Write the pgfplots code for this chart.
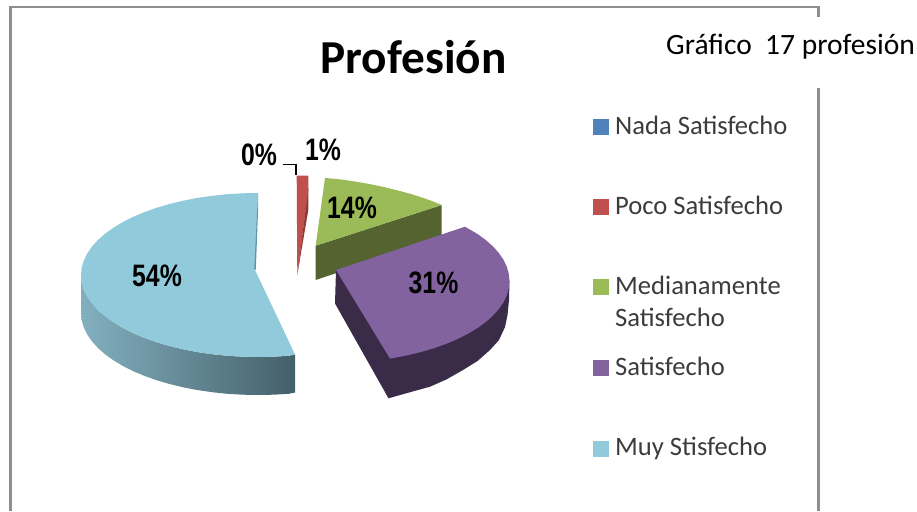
\documentclass[border=0pt]{standalone}
\usepackage{fontspec}
\setmainfont{Carlito}
\newfontfamily\lab{Liberation Sans}[FakeStretch=0.8]
\usepackage{pgfplots}
\pgfplotsset{compat=1.18}
\definecolor{cyTop}{HTML}{90CADB}
\definecolor{cyL}{HTML}{83B0BF}
\definecolor{cyR}{HTML}{44606A}
\definecolor{cySl}{HTML}{5F95A8}
\definecolor{rdTop}{HTML}{C0504D}
\definecolor{rdSd}{HTML}{8F3A37}
\definecolor{grTop}{HTML}{9BBB59}
\definecolor{grSd}{HTML}{556330}
\definecolor{puTop}{HTML}{8263A0}
\definecolor{puSd}{HTML}{3A2B48}
\definecolor{blL}{HTML}{4F81BD}
\definecolor{frm}{HTML}{8E8E8E}
\definecolor{lg}{HTML}{3C3C3C}
\newcommand{\pct}[1]{{\fontsize{31}{31}\selectfont\lab\bfseries #1}}
\newcommand{\lgd}[1]{{\fontsize{26.6}{26.6}\selectfont\color{lg}#1}}
\begin{document}
\begin{tikzpicture}
\path[use as bounding box] (0,0) rectangle (917pt,511pt);
\begin{axis}[
  at={(0,0)}, anchor=south west,
  scale only axis, width=917pt, height=511pt,
  xmin=0, xmax=917, ymin=0, ymax=511, y dir=reverse,
  hide axis, clip=true]
% frame
\addplot[frm, line width=2.4pt] coordinates {(10.5,511) (10.5,7) (818.5,7) (818.5,17)};
\addplot[frm, line width=2.4pt] coordinates {(818.5,88) (818.5,511)};
% Muy Stisfecho 54%
\addplot[draw=none, left color=cyL, right color=cyR] coordinates {
 (81,275) (81.7,282.1) (83.7,289.2) (87,296.2) (91.7,303) (97.6,309.7) (104.7,316) (113,322) (122.4,327.7)
 (132.8,333) (144.2,337.8) (156.5,342.2) (169.5,346) (183.2,349.3) (197.5,352.1) (212.2,354.2)
 (227.3,355.8) (242.6,356.7) (258,357) (273.4,356.7) (288.7,355.8) (295,354.5) (295,392.5) (288.7,393.8)
 (273.4,394.7) (258,395) (242.6,394.7) (227.3,393.8) (212.2,392.2) (197.5,390.1) (183.2,387.3) (169.5,384)
 (156.5,380.2) (144.2,375.8) (132.8,371) (122.4,365.7) (113,360) (104.7,354) (97.6,347.7) (91.7,341)
 (87,334.2) (83.7,327.2) (81.7,320.1) (81,313)} -- cycle;
\addplot[fill=cyTop, draw=none] coordinates {
 (258,193) (242.6,193.3) (227.3,194.2) (212.2,195.8) (197.5,197.9) (183.2,200.7) (169.5,204) (156.5,207.8)
 (144.2,212.2) (132.8,217) (122.4,222.3) (113,228) (104.7,234) (97.6,240.3) (91.7,247) (87,253.8)
 (83.7,260.8) (81.7,267.9) (81,275) (81.7,282.1) (83.7,289.2) (87,296.2) (91.7,303) (97.6,309.7) (104.7,316)
 (113,322) (122.4,327.7) (132.8,333) (144.2,337.8) (156.5,342.2) (169.5,346) (183.2,349.3) (197.5,352.1)
 (212.2,354.2) (227.3,355.8) (242.6,356.7) (258,357) (273.4,356.7) (288.7,355.8) (295,354.5) (255,270)} -- cycle;
\addplot[fill=cySl, draw=none] coordinates {(258,193) (258,212) (255.8,270) (254.3,268)} -- cycle;
% Poco Satisfecho 1%
\addplot[fill=rdTop, draw=none] coordinates {(296.7,175.7) (308.3,175.7) (308.3,190) (297.3,275)} -- cycle;
\addplot[fill=rdSd, draw=none] coordinates {(308.3,188) (308.3,210) (297.3,275)} -- cycle;
% Medianamente Satisfecho 14%
\addplot[fill=grSd, draw=none] coordinates {(315.7,245.7) (441.7,205) (441.7,238) (315.7,280)} -- cycle;
\addplot[fill=grTop, draw=none] coordinates {(325,178) (335,178.8) (345,180) (358,182) (372,184.5) (386,187.5) (400,191) (411,194) (422,197.5) (432,201) (441.7,205) (315.7,245.7)} -- cycle;
% Satisfecho 31%
\addplot[fill=puSd, draw=none] coordinates {
 (336,270) (509.5,281) (509,300) (507.5,315) (505,327) (499,340) (490,350) (477.5,361) (463,370)
 (446.3,379.5) (430,386.7) (407.3,393) (393,397) (388.5,398.3) (335,303.5)} -- cycle;
\addplot[fill=puTop, draw=none] coordinates {
 (336,270) (465,226.7) (477.5,234) (485.8,240) (492.9,246.3) (498.8,253) (503.5,259.8) (506.8,266.8) (508.8,273.9)
 (509.5,281) (508.8,288.1) (506.8,295.2) (503.5,302.2) (498.8,309) (492.9,315.7)
 (485.8,322) (477.5,328) (468.1,333.7) (457.7,339) (446.3,343.8) (434,348.2) (421,352) (407.3,355.3) (393,358.1) (390,358.6)} -- cycle;
% leader
\addplot[black, line width=1.3pt] coordinates {(282.7,164.3) (296,164.3) (296,175)};
% legend squares
\addplot[only marks, mark=square*, mark size=7.4pt, mark options={draw=blL, fill=blL, line width=0.5pt}] coordinates {(600.7,126.5)};
\addplot[only marks, mark=square*, mark size=7.4pt, mark options={draw=rdTop, fill=rdTop, line width=0.5pt}] coordinates {(600.7,207)};
\addplot[only marks, mark=square*, mark size=7.4pt, mark options={draw=grTop, fill=grTop, line width=0.5pt}] coordinates {(600.7,287)};
\addplot[only marks, mark=square*, mark size=7.4pt, mark options={draw=puTop, fill=puTop, line width=0.5pt}] coordinates {(600.7,368)};
\addplot[only marks, mark=square*, mark size=7.4pt, mark options={draw=cyTop, fill=cyTop, line width=0.5pt}] coordinates {(600.7,449)};
% texts
\node[anchor=base, inner sep=0pt] at (axis cs:413.5,74) {\fontsize{47.3}{47.3}\selectfont\bfseries Profesión};
\node[anchor=base west, inner sep=0pt] at (axis cs:666,55) {\fontsize{29.5}{29.5}\selectfont Gráfico\ \ 17 profesión};
\node[anchor=base west, inner sep=0pt] at (axis cs:615,134) {\lgd{Nada Satisfecho}};
\node[anchor=base west, inner sep=0pt] at (axis cs:615,214) {\lgd{Poco Satisfecho}};
\node[anchor=base west, inner sep=0pt] at (axis cs:615,294.3) {\lgd{Medianamente}};
\node[anchor=base west, inner sep=0pt] at (axis cs:615,326.7) {\lgd{Satisfecho}};
\node[anchor=base west, inner sep=0pt] at (axis cs:615,375) {\lgd{Satisfecho}};
\node[anchor=base west, inner sep=0pt] at (axis cs:615,455.7) {\lgd{Muy Stisfecho}};
\node[anchor=base, inner sep=0pt] at (axis cs:259,165) {\pct{0\%}};
\node[anchor=base, inner sep=0pt] at (axis cs:323,160.5) {\pct{1\%}};
\node[anchor=base, inner sep=0pt] at (axis cs:352,218) {\pct{14\%}};
\node[anchor=base, inner sep=0pt] at (axis cs:433.5,293) {\pct{31\%}};
\node[anchor=base, inner sep=0pt] at (axis cs:157,286) {\pct{54\%}};
\end{axis}
\end{tikzpicture}
\end{document}
